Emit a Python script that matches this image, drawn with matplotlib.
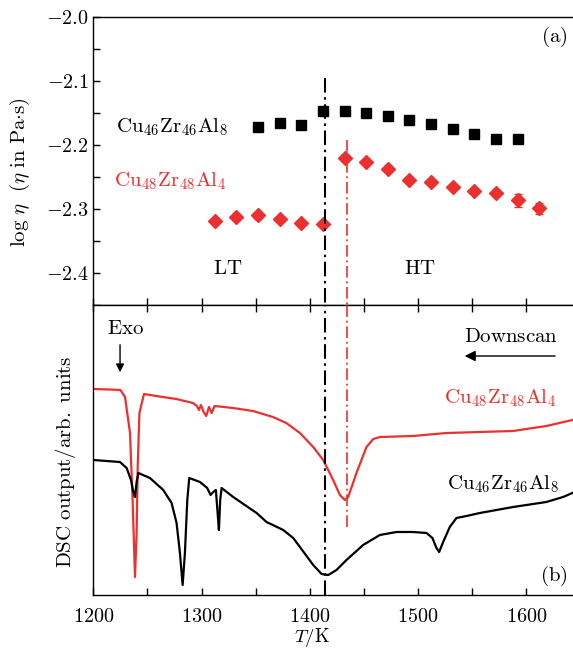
import matplotlib
matplotlib.use("Agg")
import matplotlib.pyplot as plt
from matplotlib.ticker import MultipleLocator, FuncFormatter

plt.rcParams.update({
    "font.family": "serif",
    "font.serif": ["cmr10"],
    "mathtext.fontset": "cm",
    "axes.formatter.use_mathtext": True,
    "axes.linewidth": 1.0,
})

RED = "#ec3030"

# ---- viscosity data (log eta, Pa s) ----
T_808 = [1352, 1372, 1392, 1412, 1432, 1452, 1472, 1492, 1512, 1532, 1552, 1572, 1592]
eta_808 = [-2.172, -2.166, -2.168, -2.146, -2.147, -2.150, -2.154, -2.161, -2.167,
           -2.174, -2.183, -2.190, -2.190]
err_808 = [0.002, 0.002, 0.002, 0.002, 0.002, 0.002, 0.002, 0.002, 0.002,
           0.002, 0.002, 0.004, 0.002]

T_484 = [1312, 1332, 1352, 1372, 1392, 1412,
         1432, 1452, 1472, 1492, 1512, 1532, 1552, 1572, 1592, 1612]
eta_484 = [-2.319, -2.312, -2.310, -2.315, -2.321, -2.323,
           -2.220, -2.226, -2.237, -2.254, -2.257, -2.266, -2.272, -2.275, -2.286, -2.299]
err_484 = [0.003, 0.005, 0.006, 0.003, 0.003, 0.003,
           0.004, 0.004, 0.005, 0.004, 0.004, 0.003, 0.003, 0.004, 0.010, 0.008]

# ---- DSC downscan traces (arb. units) ----
T_dsc_484 = [1200, 1215, 1225, 1229.3, 1233.9, 1236.3, 1238.5, 1240, 1241, 1242.6, 1246.8,
             1258, 1276.6, 1292, 1295.7, 1297.6, 1299.4, 1301.9, 1304.3, 1306.8, 1309.3,
             1312, 1329, 1347.4, 1365.9, 1378.2, 1390.8, 1403.1, 1412.3, 1421.5, 1427.7,
             1432.3, 1435.4, 1443, 1452.3, 1458.5, 1464.6, 1495.4, 1526.2, 1557, 1587.7,
             1606, 1618.4, 1642.4]
dsc_484 = [20.6, 20.55, 20.5, 19.8, 16.2, 9.5, 1.8, 6.2, 12.8, 18.2, 20.1,
           19.9, 19.6, 19.2, 18.9, 18.5, 19.0, 18.3, 17.9, 18.8, 18.2,
           18.9, 18.7, 18.4, 17.8, 17.2, 16.2, 14.8, 13.5, 11.5, 10.0,
           9.5, 9.8, 12.2, 14.8, 15.6, 15.8, 15.9, 16.2, 16.3, 16.4,
           16.7, 16.9, 17.5]

T_dsc_808 = [1200, 1224.6, 1230.8, 1234.8, 1237, 1238.5, 1240, 1241.6, 1252.3, 1264.6,
             1272.3, 1276.9, 1280, 1282.5, 1284.6, 1286.8, 1288.6, 1298.5, 1305.2, 1308.3,
             1310.8, 1313.2, 1314.8, 1316, 1317.2, 1318.5, 1329.2, 1350.8, 1360, 1375.4,
             1384.6, 1390.8, 1403.1, 1410.8, 1417, 1424.6, 1433.8, 1449.2, 1464.6, 1480,
             1495.4, 1507.7, 1513.2, 1516.9, 1519.4, 1523.1, 1529.2, 1535.4, 1544.6, 1557,
             1587.7, 1618.4, 1633.8, 1642.4]
dsc_808 = [13.5, 13.3, 12.7, 11.5, 10.3, 9.8, 11.3, 12.2, 11.7, 10.5,
           9.2, 7.2, 4.2, 1.0, 4.2, 9.5, 11.7, 11.3, 10.7, 10.0,
           10.3, 10.5, 8.2, 6.5, 9.5, 10.7, 9.8, 8.2, 7.3, 6.5,
           5.7, 4.8, 3.0, 2.1, 2.0, 2.5, 3.5, 5.0, 6.0, 6.3,
           6.3, 6.2, 5.7, 4.7, 4.3, 5.3, 6.8, 7.7, 7.9, 8.2,
           8.8, 9.3, 9.8, 10.2]

# characteristic temperatures (K)
T_c808 = 1414
T_c484 = 1434

label_808 = r"$\mathrm{Cu_{46}Zr_{46}Al_{8}}$"
label_484 = r"$\mathrm{Cu_{48}Zr_{48}Al_{4}}$"

FS = 15      # annotations and axis titles
FS_TICK = 14.5
xlim = (1200, 1643)

fig = plt.figure(figsize=(5.73, 6.5), dpi=100)
left = 93.3 / 573
ax1 = fig.add_axes([left, 345 / 650, 1 - left, 287.7 / 650])
ax2 = fig.add_axes([left, 55 / 650, 1 - left, 290 / 650])

dash = (0, (7, 2.2, 1.2, 2.2))

# --- panel (a): viscosity ---
ax1.errorbar(T_808, eta_808, yerr=err_808, fmt="s", color="black", ms=6.5,
             capsize=3, elinewidth=1, zorder=3)
ax1.errorbar(T_484, eta_484, yerr=err_484, fmt="D", color=RED, ms=7,
             capsize=3, elinewidth=1, zorder=3)
ax1.plot([T_c808, T_c808], [-2.0953, -2.45], color="black", lw=1.5, ls=dash, zorder=4)
ax1.plot([T_c484, T_c484], [-2.1917, -2.45], color=RED, lw=1.2, ls=dash, zorder=4)
ax1.set_xlim(*xlim)
ax1.set_ylim(-2.45, -2.0)
ax1.yaxis.set_major_locator(MultipleLocator(0.1))
ax1.yaxis.set_minor_locator(MultipleLocator(0.05))
ax1.yaxis.set_major_formatter(FuncFormatter(lambda v, p: r"$%.1f$" % v))
ax1.xaxis.set_major_locator(MultipleLocator(100))
ax1.xaxis.set_minor_locator(MultipleLocator(50))
ax1.tick_params(which="both", direction="in", length=5, width=1,
                top=False, right=False, labelbottom=False, labelsize=FS_TICK)
ax1.spines["right"].set_visible(False)

ax1.text(1221, -2.1714, label_808, fontsize=FS, ha="left", va="center", color="black")
ax1.text(1219, -2.257, label_484, fontsize=FS, ha="left", va="center", color=RED)
ax1.text(1323.9, -2.393, r"$\mathrm{LT}$", fontsize=FS, ha="center", va="center")
ax1.text(1502, -2.393, r"$\mathrm{HT}$", fontsize=FS, ha="center", va="center")
ax1.text(1638, -2.031, r"$\mathrm{(a)}$", fontsize=FS, ha="right", va="center")

# --- panel (b): DSC ---
ax2.plot(T_dsc_484, dsc_484, color=RED, lw=1.6)
ax2.plot(T_dsc_808, dsc_808, color="black", lw=1.6)
ax2.plot([T_c808, T_c808], [0, 29], color="black", lw=1.5, ls=dash, zorder=4)
ax2.plot([T_c484, T_c484], [6.83, 29], color=RED, lw=1.2, ls=dash, zorder=4)
ax2.set_xlim(*xlim)
ax2.set_ylim(0, 29)
ax2.set_yticks([])
ax2.xaxis.set_major_locator(MultipleLocator(100))
ax2.xaxis.set_minor_locator(MultipleLocator(50))
ax2.xaxis.set_major_formatter(FuncFormatter(lambda v, p: r"$%d$" % v))
ax2.tick_params(which="both", direction="in", length=5, width=1,
                top=True, bottom=True, labelsize=FS_TICK, pad=9)
ax2.spines["right"].set_visible(False)

ax2.text(1229.3, 26.6, r"$\mathrm{Exo}$", fontsize=FS, ha="center", va="center")
ax2.annotate("", xy=(1224.7, 22.0), xytext=(1224.7, 25.3),
             arrowprops=dict(arrowstyle="-|>", color="black", lw=1, mutation_scale=12))
ax2.text(1585.6, 25.8, r"$\mathrm{Downscan}$", fontsize=FS, ha="center", va="center")
ax2.annotate("", xy=(1540.4, 23.9), xytext=(1629, 23.9),
             arrowprops=dict(arrowstyle="-|>", color="black", lw=1, mutation_scale=16))
ax2.text(1628, 19.7, label_484, fontsize=FS, ha="right", va="center", color=RED)
ax2.text(1630, 11.1, label_808, fontsize=FS, ha="right", va="center", color="black")
ax2.text(1638, 1.9, r"$\mathrm{(b)}$", fontsize=FS, ha="right", va="center")

# axis titles
fig.text(20 / 573, 1 - 172 / 650, r"$\log\,\eta\ \ (\eta\ \mathrm{in\ Pa{\cdot}s})$",
         rotation=90, fontsize=FS, ha="center", va="center")
fig.text(65 / 573, 1 - 462 / 650, r"$\mathrm{DSC\ output/arb.\ units}$",
         rotation=90, fontsize=FS, ha="center", va="center")
fig.text(312 / 573, 1 - 642 / 650, r"$T/\mathrm{K}$", fontsize=13.5,
         ha="center", va="baseline")

fig.savefig("out.png", dpi=100)
